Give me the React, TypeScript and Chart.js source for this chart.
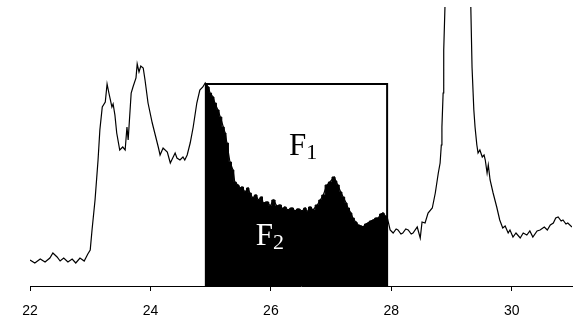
import { useEffect, useRef } from "react";
import { Chart, registerables } from "chart.js";

Chart.register(...registerables);

// 2θ positions of the sampled spectrum
const twoTheta: number[] = [
  22.0, 22.08, 22.17, 22.25, 22.33, 22.38, 22.45, 22.5, 22.56, 22.63, 22.7, 22.76, 22.83, 22.9, 22.96,
  23.0, 23.03, 23.08, 23.13, 23.16, 23.2, 23.25, 23.28, 23.31, 23.36, 23.38, 23.41, 23.44, 23.49, 23.54,
  23.58, 23.61, 23.63, 23.68, 23.71, 23.76, 23.78, 23.81, 23.84, 23.88, 23.91, 23.96, 24.03, 24.08, 24.13,
  24.16, 24.21, 24.28, 24.33, 24.37, 24.41, 24.44, 24.49, 24.54, 24.57, 24.61, 24.66, 24.71, 24.77, 24.82,
  24.87, 24.91,
  24.92, 24.96, 24.99, 25.04, 25.07, 25.12, 25.16, 25.21, 25.24, 25.27, 25.32, 25.37, 25.4, 25.45, 25.49,
  25.52, 25.57, 25.62, 25.65, 25.7, 25.75, 25.79, 25.85, 25.87, 25.94, 25.99, 26.04, 26.1, 26.15, 26.2,
  26.23, 26.28, 26.35, 26.4, 26.45, 26.52, 26.57, 26.6, 26.65, 26.7, 26.77, 26.82, 26.87, 26.93, 26.98,
  27.05, 27.08, 27.11, 27.16,
  27.2, 27.25, 27.28, 27.33, 27.36, 27.41, 27.45, 27.5, 27.53, 27.58, 27.61, 27.66, 27.7, 27.75, 27.78,
  27.83, 27.86, 27.9, 27.93,
  27.98, 28.03, 28.08, 28.11, 28.16, 28.19, 28.24, 28.28, 28.33, 28.36, 28.43, 28.48, 28.51, 28.56, 28.61,
  28.68, 28.73, 28.78, 28.81, 28.83, 28.84, 28.86, 28.87, 28.89, 28.91, 29.11, 29.31, 29.32, 29.34, 29.37,
  29.39, 29.42, 29.44, 29.47, 29.51, 29.54, 29.56, 29.59, 29.61, 29.64, 29.69, 29.75, 29.8, 29.85, 29.89,
  29.94, 29.97, 30.02, 30.07, 30.14, 30.19, 30.25, 30.3, 30.35, 30.42, 30.47, 30.54, 30.59, 30.64, 30.69,
  30.73, 30.77, 30.82, 30.85, 30.9, 30.93, 31.0,
];

// intensity (arbitrary units)
const intensity: number[] = [
  26, 23, 27, 24, 28, 33, 29, 25, 28, 24, 27, 23, 28, 25, 32,
  36, 56, 86, 126, 156, 179, 184, 202, 193, 179, 182, 171, 153, 136, 139,
  136, 159, 146, 193, 199, 208, 222, 214, 220, 218, 206, 183, 163, 151, 139,
  131, 138, 134, 123, 128, 133, 128, 126, 129, 126, 131, 143, 159, 183, 196,
  199, 203,
  202, 199, 193, 189, 183, 176, 169, 159, 153, 143, 124, 116, 104, 101, 98,
  99, 94, 98, 93, 88, 91, 86, 89, 83, 84, 80, 86, 80, 81, 77,
  79, 76, 78, 75, 77, 75, 78, 74, 79, 76, 81, 86, 91, 101, 104,
  109, 105, 101, 94,
  89, 83, 78, 73, 68, 64, 61, 60, 59, 62, 63, 65, 66, 68, 68,
  72, 73, 70, 69,
  56, 53, 57, 56, 52, 53, 57, 56, 52, 53, 59, 48, 64, 63, 73,
  78, 93, 113, 123, 141, 159, 193, 236, 278, 316, 686, 316, 278, 219, 176,
  159, 141, 133, 136, 129, 131, 126, 113, 121, 106, 93, 79, 66, 58, 60,
  53, 56, 49, 53, 48, 53, 51, 55, 49, 55, 56, 59, 56, 61, 63,
  68, 69, 65, 66, 62, 63, 59,
];

const xTicks: number[] = [22, 24, 26, 28, 30];
const xMin = 22;
const xMax = 31;
const yMax = 279;

// integration window
const boxStart = 24.92;
const boxEnd = 27.93;
const boxTop = 202;

const regionNames: string[] = ["F", "F"];
const regionSubs: string[] = ["1", "2"];
const regionX: number[] = [26.3, 25.75];
const regionY: number[] = [131, 41];
const regionColors: string[] = ["#000000", "#ffffff"];

const labelPlugin = {
  id: "regionLabels",
  afterDatasetsDraw(chart: any) {
    const { ctx, scales } = chart;
    const xs = scales.x;
    const ys = scales.y;
    ctx.save();
    for (let i = 0; i < regionNames.length; i++) {
      const px = xs.getPixelForValue(regionX[i]);
      const py = ys.getPixelForValue(regionY[i]);
      ctx.fillStyle = regionColors[i];
      ctx.textAlign = "left";
      ctx.textBaseline = "alphabetic";
      ctx.font = "31px 'Liberation Serif', 'Times New Roman', serif";
      ctx.fillText(regionNames[i], px, py);
      const w = ctx.measureText(regionNames[i]).width;
      ctx.font = "22px 'Liberation Serif', 'Times New Roman', serif";
      ctx.fillText(regionSubs[i], px + w, py + 4);
    }
    ctx.restore();
  },
};

export default function App() {
  const canvasRef = useRef<HTMLCanvasElement | null>(null);

  useEffect(() => {
    const canvas = canvasRef.current;
    if (!canvas) return;

    const curve = twoTheta.map((x, i) => ({ x, y: intensity[i] }));
    const filled = curve.filter((p) => p.x >= boxStart && p.x <= boxEnd);
    const box = [
      { x: boxStart, y: 0 },
      { x: boxStart, y: boxTop },
      { x: boxEnd, y: boxTop },
      { x: boxEnd, y: 0 },
    ];

    const chart = new Chart(canvas, {
      type: "line",
      data: {
        datasets: [
          {
            data: box,
            borderColor: "#000",
            borderWidth: 2,
            pointRadius: 0,
            fill: false,
            tension: 0,
            order: 1,
          },
          {
            data: curve,
            borderColor: "#000",
            borderWidth: 1.2,
            pointRadius: 0,
            fill: false,
            tension: 0,
            order: 2,
          },
          {
            data: filled,
            borderColor: "#000",
            borderWidth: 1,
            backgroundColor: "#000",
            pointRadius: 0,
            fill: "origin",
            tension: 0,
            stepped: "middle",
            order: 3,
          },
        ],
      },
      options: {
        animation: false,
        responsive: false,
        devicePixelRatio: 1,
        layout: { padding: { left: 30, right: 2, top: 7, bottom: 0 } },
        plugins: {
          legend: { display: false },
          tooltip: { enabled: false },
        },
        scales: {
          x: {
            type: "linear",
            min: xMin,
            max: xMax,
            afterBuildTicks: (scale: any) => {
              scale.ticks = xTicks.map((v) => ({ value: v }));
            },
            afterFit: (scale: any) => {
              scale.height = 34;
            },
            grid: {
              display: true,
              drawOnChartArea: false,
              drawTicks: true,
              tickLength: 5,
              color: "#000",
              lineWidth: 1,
            },
            border: { display: true, color: "#000", width: 1 },
            ticks: {
              color: "#000",
              font: { family: "'Liberation Sans', Arial, sans-serif", size: 14 },
              padding: 12,
              maxRotation: 0,
              autoSkip: false,
            },
          },
          y: {
            display: false,
            min: 0,
            max: yMax,
          },
        },
      },
      plugins: [labelPlugin],
    });

    return () => chart.destroy();
  }, []);

  return (
    <div style={{ position: "absolute", left: 0, top: 0, width: 574, height: 320, background: "#fff" }}>
      <canvas ref={canvasRef} width={574} height={320} style={{ display: "block" }} />
    </div>
  );
}
